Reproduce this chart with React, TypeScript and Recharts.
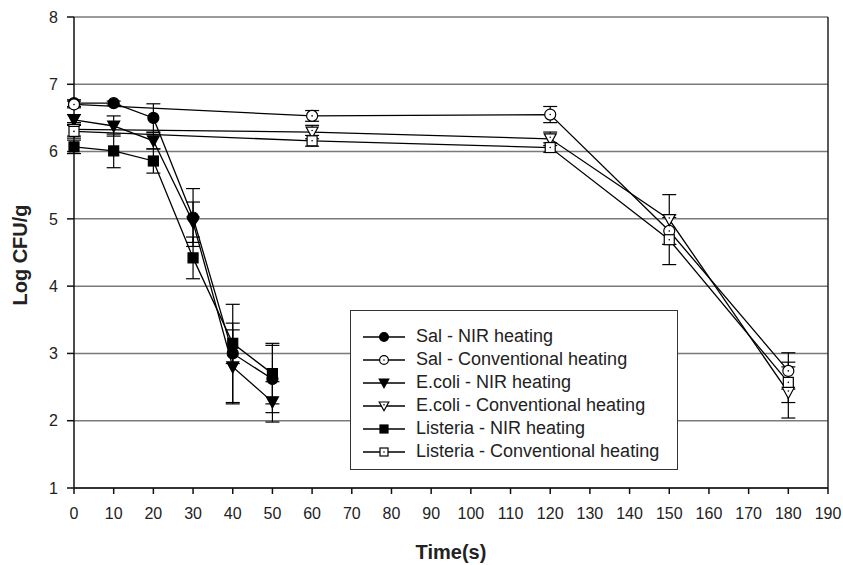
import {
  LineChart,
  Line,
  XAxis,
  YAxis,
  CartesianGrid,
  ErrorBar,
  Legend,
  ReferenceLine,
} from 'recharts';

const FONT = '"Liberation Sans", Arial, sans-serif';

// time points (s)
const nirTimes = [0, 10, 20, 30, 40, 50];
const convTimes = [0, 60, 120, 150, 180];

const xTicks = [0, 10, 20, 30, 40, 50, 60, 70, 80, 90, 100, 110, 120, 130, 140, 150, 160, 170, 180, 190];
const yTicks = [1, 2, 3, 4, 5, 6, 7, 8];

// Log CFU/g
const salNir = [6.72, 6.72, 6.5, 5.02, 3.0, 2.62];
const salNirErr = [0.05, 0.03, 0.21, 0.43, 0.73, 0.5];
const salConv = [6.7, 6.53, 6.55, 4.82, 2.74];
const salConvErr = [0.05, 0.08, 0.12, 0.2, 0.27];

const ecoliNir = [6.47, 6.38, 6.16, 4.95, 2.8, 2.28];
const ecoliNirErr = [0.08, 0.15, 0.12, 0.3, 0.55, 0.3];
const ecoliConv = [6.33, 6.29, 6.19, 4.99, 2.42];
const ecoliConvErr = [0.1, 0.1, 0.1, 0.37, 0.38];

const listNir = [6.07, 6.01, 5.86, 4.42, 3.15, 2.7];
const listNirErr = [0.1, 0.25, 0.18, 0.31, 0.3, 0.45];
const listConv = [6.3, 6.16, 6.06, 4.69, 2.57];
const listConvErr = [0.1, 0.08, 0.07, 0.37, 0.3];

const build = (times: number[], vals: number[], errs: number[]) =>
  times.map((t, i) => ({ t, v: vals[i], e: errs[i] }));

type Shape = 'circle' | 'triangle' | 'square';

function Marker({ cx, cy, shape, filled, s = 1 }: { cx: number; cy: number; shape: Shape; filled: boolean; s?: number }) {
  const fill = filled ? '#000' : '#fff';
  const common = { fill, stroke: '#000', strokeWidth: 1.2 };
  let body;
  if (shape === 'circle') body = <circle cx={cx} cy={cy} r={5.5 * s} {...common} />;
  else if (shape === 'square') body = <rect x={cx - 5 * s} y={cy - 5 * s} width={10 * s} height={10 * s} {...common} />;
  else
    body = (
      <polygon
        points={`${cx - 6 * s},${cy - 5 * s} ${cx + 6 * s},${cy - 5 * s} ${cx},${cy + 6 * s}`}
        {...common}
      />
    );
  return (
    <g>
      {body}
      {!filled && <circle cx={cx} cy={shape === 'triangle' ? cy - 1.5 * s : cy} r={0.8} fill="#000" />}
    </g>
  );
}

const dotFor = (shape: Shape, filled: boolean) => (p: any) =>
  <Marker key={p.index} cx={p.cx} cy={p.cy} shape={shape} filled={filled} />;

const series = [
  { name: 'Sal - NIR heating', data: build(nirTimes, salNir, salNirErr), shape: 'circle' as Shape, filled: true },
  { name: 'Sal - Conventional heating', data: build(convTimes, salConv, salConvErr), shape: 'circle' as Shape, filled: false },
  { name: 'E.coli - NIR heating', data: build(nirTimes, ecoliNir, ecoliNirErr), shape: 'triangle' as Shape, filled: true },
  { name: 'E.coli - Conventional heating', data: build(convTimes, ecoliConv, ecoliConvErr), shape: 'triangle' as Shape, filled: false },
  { name: 'Listeria - NIR heating', data: build(nirTimes, listNir, listNirErr), shape: 'square' as Shape, filled: true },
  { name: 'Listeria - Conventional heating', data: build(convTimes, listConv, listConvErr), shape: 'square' as Shape, filled: false },
];

function LegendBox() {
  return (
    <div
      style={{
        border: '1px solid #333',
        background: '#fff',
        padding: '14px 10px 6px 12px',
        fontFamily: FONT,
        fontSize: 18,
        color: '#222',
        boxSizing: 'border-box',
        width: 328,
      }}
    >
      {series.map((s) => (
        <div key={s.name} style={{ display: 'flex', alignItems: 'center', height: 23 }}>
          <svg width={42} height={16} style={{ flex: 'none' }}>
            <line x1={0} x2={42} y1={8} y2={8} stroke="#000" strokeWidth={1.3} />
            <Marker cx={21} cy={8} shape={s.shape} filled={s.filled} s={0.8} />
          </svg>
          <span style={{ marginLeft: 11, whiteSpace: 'nowrap' }}>{s.name}</span>
        </div>
      ))}
    </div>
  );
}

function XTitle({ viewBox }: any) {
  return (
    <text x={viewBox.x + viewBox.width / 2} y={559} textAnchor="middle" fontFamily={FONT} fontSize={20} fontWeight="bold" fill="#222">
      Time(s)
    </text>
  );
}

function YTitle() {
  return (
    <text x={27} y={255} transform="rotate(-90 27 255)" textAnchor="middle" fontFamily={FONT} fontSize={20} fontWeight="bold" fill="#222">
      Log CFU/g
    </text>
  );
}

export default function App() {
  return (
    <div style={{ position: 'absolute', left: 0, top: 0, background: '#fff' }}>
      <LineChart width={843} height={565} margin={{ top: 17, right: 15, bottom: 0, left: 0 }}>
        <CartesianGrid vertical={false} stroke="#7a7a7a" strokeWidth={1.5} />
        <XAxis
          type="number"
          dataKey="t"
          domain={[0, 190]}
          ticks={xTicks}
          height={77}
          tickSize={6}
          tickMargin={14}
          axisLine={{ stroke: '#111', strokeWidth: 1.5 }}
          tickLine={{ stroke: '#111', strokeWidth: 1.5 }}
          tick={{ fontSize: 16, fill: '#222', fontFamily: FONT }}
          interval={0}
          label={<XTitle />}
        />
        <YAxis
          type="number"
          domain={[1, 8]}
          ticks={yTicks}
          width={74}
          tickSize={7}
          tickMargin={9}
          axisLine={{ stroke: '#111', strokeWidth: 1.5 }}
          tickLine={{ stroke: '#111', strokeWidth: 1.5 }}
          tick={{ fontSize: 16, fill: '#222', fontFamily: FONT }}
          interval={0}
          label={<YTitle />}
        />
        <ReferenceLine x={190} stroke="#222" strokeWidth={1.5} />
        {series.map((s) => (
          <Line
            key={s.name}
            data={s.data}
            dataKey="v"
            name={s.name}
            type="linear"
            stroke="#000"
            strokeWidth={1.3}
            dot={dotFor(s.shape, s.filled)}
            activeDot={false}
            isAnimationActive={false}
          >
            <ErrorBar dataKey="e" direction="y" width={7} stroke="#000" strokeWidth={1.2} isAnimationActive={false} />
          </Line>
        ))}
        <Legend
          layout="vertical"
          align="center"
          verticalAlign="middle"
          wrapperStyle={{ left: 350, top: 310, width: 328 }}
          content={() => <LegendBox />}
        />
      </LineChart>
    </div>
  );
}
